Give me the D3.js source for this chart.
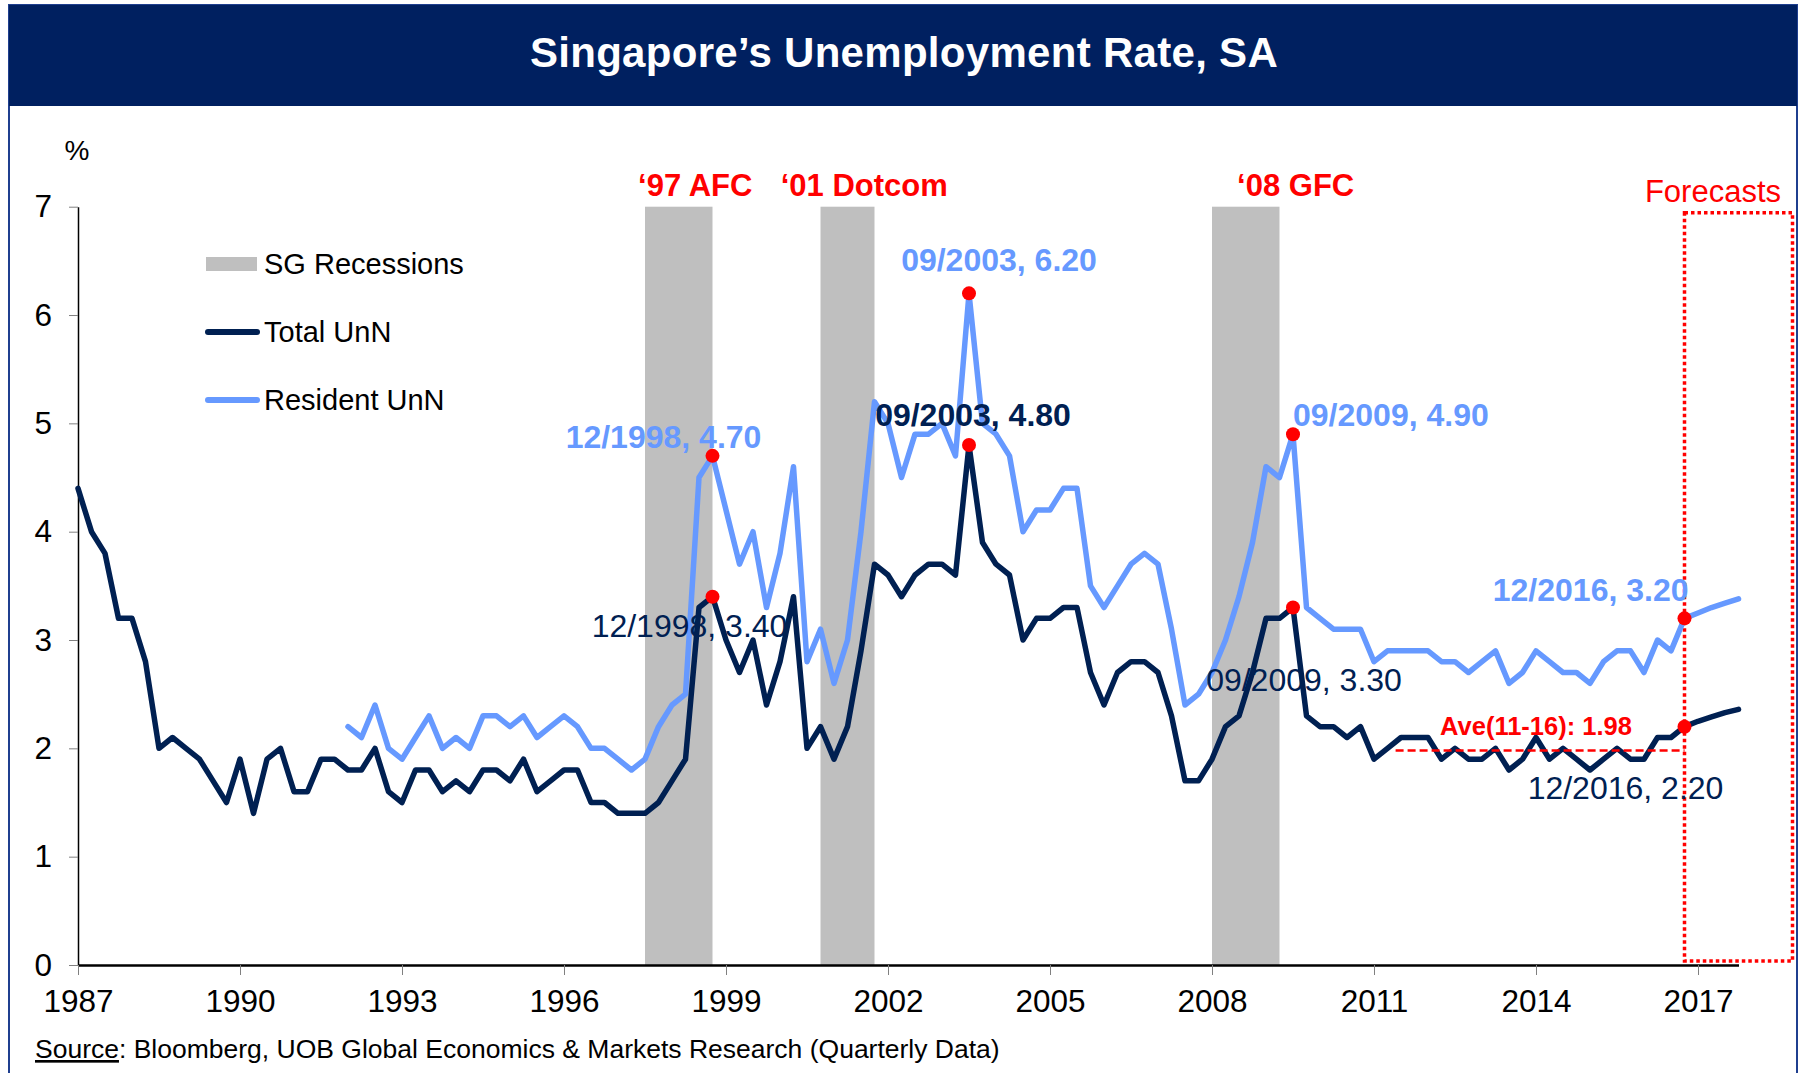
<!DOCTYPE html>
<html>
  <head>
	<meta charset="utf-8">
	<title>Singapore's Unemployment Rate, SA</title>
	<style>
	  body { margin: 0; background: #fff; }
	  svg text { font-family: 'Liberation Sans', Arial, sans-serif; }
	</style>
  </head>
  <body>
	<div id="chart"></div>
	<script src="https://d3js.org/d3.v7.min.js"></script>
	<script>
	// quarterly, seasonally adjusted, 1987Q1 .. 2017Q4 (2017 = forecasts)
	var startYear = 1987;
	var totalUnN = [
	  4.4, 4.0, 3.8, 3.2, 3.2, 2.8, 2.0, 2.1, 2.0, 1.9, 1.7, 1.5,
	  1.9, 1.4, 1.9, 2.0, 1.6, 1.6, 1.9, 1.9, 1.8, 1.8, 2.0, 1.6,
	  1.5, 1.8, 1.8, 1.6, 1.7, 1.6, 1.8, 1.8, 1.7, 1.9, 1.6, 1.7,
	  1.8, 1.8, 1.5, 1.5, 1.4, 1.4, 1.4, 1.5, 1.7, 1.9, 3.3, 3.4,
	  3.0, 2.7, 3.0, 2.4, 2.8, 3.4, 2.0, 2.2, 1.9, 2.2, 2.9, 3.7,
	  3.6, 3.4, 3.6, 3.7, 3.7, 3.6, 4.8, 3.9, 3.7, 3.6, 3.0, 3.2,
	  3.2, 3.3, 3.3, 2.7, 2.4, 2.7, 2.8, 2.8, 2.7, 2.3, 1.7, 1.7,
	  1.9, 2.2, 2.3, 2.7, 3.2, 3.2, 3.3, 2.3, 2.2, 2.2, 2.1, 2.2,
	  1.9, 2.0, 2.1, 2.1, 2.1, 1.9, 2.0, 1.9, 1.9, 2.0, 1.8, 1.9,
	  2.1, 1.9, 2.0, 1.9, 1.8, 1.9, 2.0, 1.9, 1.9, 2.1, 2.1, 2.2,
	  2.25, 2.29, 2.33, 2.36
	];
	var residentStart = 1992;
	var residentUnN = [
	  2.2, 2.1, 2.4, 2.0, 1.9, 2.1, 2.3, 2.0, 2.1, 2.0, 2.3, 2.3,
	  2.2, 2.3, 2.1, 2.2, 2.3, 2.2, 2.0, 2.0, 1.9, 1.8, 1.9, 2.2,
	  2.4, 2.5, 4.5, 4.7, 4.2, 3.7, 4.0, 3.3, 3.8, 4.6, 2.8, 3.1,
	  2.6, 3.0, 4.0, 5.2, 5.0, 4.5, 4.9, 4.9, 5.0, 4.7, 6.2, 5.0,
	  4.9, 4.7, 4.0, 4.2, 4.2, 4.4, 4.4, 3.5, 3.3, 3.5, 3.7, 3.8,
	  3.7, 3.1, 2.4, 2.5, 2.7, 3.0, 3.4, 3.9, 4.6, 4.5, 4.9, 3.3,
	  3.2, 3.1, 3.1, 3.1, 2.8, 2.9, 2.9, 2.9, 2.9, 2.8, 2.8, 2.7,
	  2.8, 2.9, 2.6, 2.7, 2.9, 2.8, 2.7, 2.7, 2.6, 2.8, 2.9, 2.9,
	  2.7, 3.0, 2.9, 3.2, 3.25, 3.3, 3.34, 3.38
	];
	var yearTicks = [1987, 1990, 1993, 1996, 1999, 2002, 2005, 2008, 2011, 2014, 2017];
	var valueTicks = [0, 1, 2, 3, 4, 5, 6, 7];
	var recessions = [
	  { label: '\u201897 AFC', from: 1997.5, to: 1998.75 },
	  { label: '\u201801 Dotcom', from: 2000.75, to: 2001.75 },
	  { label: '\u201808 GFC', from: 2008, to: 2009.25 }
	];
	var highlights = [
	  { series: 'resident', quarter: '12/1998' },
	  { series: 'total', quarter: '12/1998' },
	  { series: 'resident', quarter: '09/2003' },
	  { series: 'total', quarter: '09/2003' },
	  { series: 'resident', quarter: '09/2009' },
	  { series: 'total', quarter: '09/2009' },
	  { series: 'resident', quarter: '12/2016' },
	  { series: 'total', quarter: '12/2016' }
	];
	var average = { label: 'Ave(11-16): 1.98', value: 1.98, from: 2011.4, to: 2016.75 };
	var forecastFrom = 2016.75;

	(function(d3) {
	  'use strict';

	  var width = 1801;
	  var height = 1073;
	  var navy = '#002052';
	  var blue = '#6699FF';
	  var red = '#FF0000';

	  function toPoints(values, year0) {
		return values.map(function(v, i) { return { t: year0 + i / 4, v: v }; });
	  }
	  var series = {
		total: toPoints(totalUnN, startYear),
		resident: toPoints(residentUnN, residentStart)
	  };

	  var svg = d3.select('#chart')
		.append('svg')
		.attr('width', width)
		.attr('height', height);

	  var x = d3.scaleLinear().domain([1987, 2017.75]).range([78, 1738.5]);
	  var y = d3.scaleLinear().domain([0, 7]).range([965, 206.7]);

	  // frame + title band
	  svg.append('rect')
		.attr('x', 9).attr('y', 5)
		.attr('width', 1788).attr('height', 1090)
		.attr('fill', 'none')
		.attr('stroke', '#1F3F8F')
		.attr('stroke-width', 2);
	  svg.append('rect')
		.attr('x', 9).attr('y', 5)
		.attr('width', 1788).attr('height', 101)
		.attr('fill', '#002060');
	  svg.append('text')
		.attr('x', 904).attr('y', 67)
		.attr('text-anchor', 'middle')
		.attr('fill', '#fff')
		.style('font-size', '42px')
		.style('font-weight', 'bold')
		.style('letter-spacing', '0.3px')
		.text('Singapore\u2019s Unemployment Rate, SA');

	  // recession bands
	  svg.selectAll('rect.band')
		.data(recessions)
		.enter()
		.append('rect')
		.attr('class', 'band')
		.attr('x', function(d) { return x(d.from); })
		.attr('y', y(7))
		.attr('width', function(d) { return x(d.to) - x(d.from); })
		.attr('height', y(0) - y(7))
		.attr('fill', '#BFBFBF');

	  var bandLabelX = [1998.43, 2001.56, 2009.55];
	  svg.selectAll('text.band')
		.data(recessions)
		.enter()
		.append('text')
		.attr('class', 'band')
		.attr('x', function(d, i) { return x(bandLabelX[i]); })
		.attr('y', 196)
		.attr('text-anchor', 'middle')
		.attr('fill', red)
		.style('font-size', '31px')
		.style('font-weight', 'bold')
		.text(function(d) { return d.label; });

	  // axes
	  var yAxis = svg.append('g')
		.attr('transform', 'translate(' + x(1987) + ',0)')
		.call(d3.axisLeft(y).tickValues(valueTicks).tickFormat(d3.format('d'))
		  .tickSize(9).tickSizeOuter(0).tickPadding(17));
	  var xAxis = svg.append('g')
		.attr('transform', 'translate(0,' + y(0) + ')')
		.call(d3.axisBottom(x).tickValues(yearTicks).tickFormat(d3.format('d'))
		  .tickSize(10).tickSizeOuter(0).tickPadding(15));
	  [yAxis, xAxis].forEach(function(g) {
		g.selectAll('.tick line').attr('stroke', '#808080');
		g.selectAll('.tick text').attr('fill', '#000').style('font-size', '31.5px')
		  .style('font-family', "'Liberation Sans', Arial, sans-serif");
		g.select('.domain').attr('stroke', '#000');
	  });
	  yAxis.select('.domain').attr('stroke-width', 1.5);
	  xAxis.select('.domain').attr('stroke-width', 2.5);

	  svg.append('text')
		.attr('x', 77).attr('y', 160)
		.attr('text-anchor', 'middle')
		.style('font-size', '28px')
		.text('%');

	  // forecast box
	  svg.append('rect')
		.attr('x', x(forecastFrom))
		.attr('y', y(7) + 6)
		.attr('width', x(2018.75) - x(forecastFrom))
		.attr('height', y(0) - y(7) - 10)
		.attr('fill', 'none')
		.attr('stroke', red)
		.attr('stroke-width', 3.5)
		.attr('stroke-dasharray', '3.5,3');
	  svg.append('text')
		.attr('x', 1713).attr('y', 202)
		.attr('text-anchor', 'middle')
		.attr('fill', red)
		.style('font-size', '31px')
		.text('Forecasts');

	  // lines
	  var line = d3.line()
		.x(function(d) { return x(d.t); })
		.y(function(d) { return y(d.v); });
	  [[series.resident, blue], [series.total, navy]].forEach(function(s) {
		svg.append('path')
		  .datum(s[0])
		  .attr('d', line)
		  .attr('fill', 'none')
		  .attr('stroke', s[1])
		  .attr('stroke-width', 5.5)
		  .attr('stroke-linejoin', 'round')
		  .attr('stroke-linecap', 'round');
	  });

	  // average 2011-16
	  svg.append('line')
		.attr('x1', x(average.from)).attr('x2', x(average.to))
		.attr('y1', y(average.value)).attr('y2', y(average.value))
		.attr('stroke', red)
		.attr('stroke-width', 2.5)
		.attr('stroke-dasharray', '8,4');
	  svg.append('text')
		.attr('x', x(2014)).attr('y', y(average.value) - 16)
		.attr('text-anchor', 'middle')
		.attr('fill', red)
		.style('font-size', '25.5px')
		.style('font-weight', 'bold')
		.text(average.label);

	  // highlighted points
	  var pts = highlights.map(function(h) {
		var p = h.quarter.split('/');
		var t = +p[1] + (+p[0] / 3 - 1) / 4;
		var s = series[h.series];
		var d = s.filter(function(e) { return Math.abs(e.t - t) < 0.01; })[0];
		return { series: h.series, quarter: h.quarter, t: t, v: d.v };
	  });
	  // label offsets from the point: [dx, dy, anchor]
	  var offsets = [
		[-49, -8, 'middle'], [-23, 40, 'middle'],
		[30, -22, 'middle'], [4, -19, 'middle'],
		[0, -8, 'start'], [11, 83, 'middle'],
		[4, -17, 'end'], [-59, 72, 'middle']
	  ];
	  svg.selectAll('text.pt')
		.data(pts)
		.enter()
		.append('text')
		.attr('class', 'pt')
		.attr('x', function(d, i) { return x(d.t) + offsets[i][0]; })
		.attr('y', function(d, i) { return y(d.v) + offsets[i][1]; })
		.attr('text-anchor', function(d, i) { return offsets[i][2]; })
		.attr('fill', function(d) { return d.series === 'resident' ? blue : navy; })
		.style('font-size', '32px')
		.style('font-weight', function(d, i) {
		  return (d.series === 'resident' || i === 3) ? 'bold' : 'normal';
		})
		.text(function(d) { return d.quarter + ', ' + d.v.toFixed(2); });
	  svg.selectAll('circle.pt')
		.data(pts)
		.enter()
		.append('circle')
		.attr('class', 'pt')
		.attr('cx', function(d) { return x(d.t); })
		.attr('cy', function(d) { return y(d.v); })
		.attr('r', 7)
		.attr('fill', red);

	  // legend
	  var legend = svg.append('g').attr('transform', 'translate(206,0)');
	  legend.append('rect')
		.attr('x', 0).attr('y', 257)
		.attr('width', 51).attr('height', 14)
		.attr('fill', '#BFBFBF');
	  [[332, navy], [400, blue]].forEach(function(r) {
		legend.append('line')
		  .attr('x1', 2).attr('x2', 51)
		  .attr('y1', r[0]).attr('y2', r[0])
		  .attr('stroke', r[1])
		  .attr('stroke-width', 6)
		  .attr('stroke-linecap', 'round');
	  });
	  legend.selectAll('text')
		.data(['SG Recessions', 'Total UnN', 'Resident UnN'])
		.enter()
		.append('text')
		.attr('x', 58)
		.attr('y', function(d, i) { return [264, 332, 400][i]; })
		.attr('dy', '0.35em')
		.style('font-size', '29px')
		.text(function(d) { return d; });

	  // source
	  var src = svg.append('text')
		.attr('x', 35).attr('y', 1058)
		.style('font-size', '26.5px');
	  src.append('tspan').style('text-decoration', 'underline').text('Source');
	  src.append('tspan').text(': Bloomberg, UOB Global Economics & Markets Research (Quarterly Data)');

	})(window.d3);
	</script>
  </body>
</html>
